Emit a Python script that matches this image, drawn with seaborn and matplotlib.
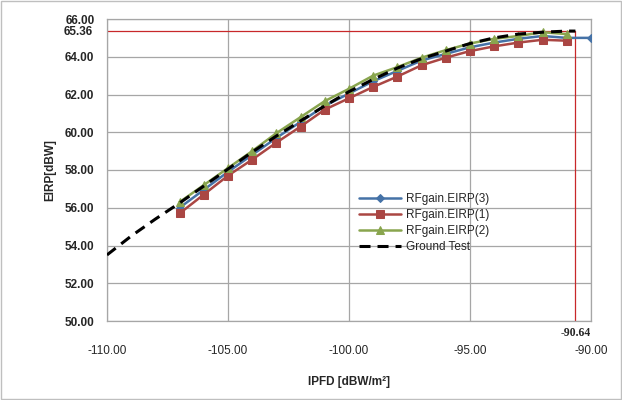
import numpy as np
import pandas as pd
import matplotlib
matplotlib.use("Agg")
import matplotlib.pyplot as plt
import seaborn as sns

# IPFD [dBW/m2] 側のデータ
ipfd_meas = [-107, -106, -105, -104, -103, -102, -101, -100, -99, -98,
             -97, -96, -95, -94, -93, -92, -91]
eirp_3 = [56.0, 56.95, 57.9, 58.8, 59.7, 60.55, 61.4, 62.05, 62.7, 63.25,
          63.8, 64.15, 64.5, 64.75, 64.95, 65.1, 65.0]
eirp_1 = [55.7, 56.7, 57.7, 58.55, 59.45, 60.3, 61.2, 61.8, 62.4, 62.95,
          63.55, 63.95, 64.3, 64.55, 64.75, 64.9, 64.85]
eirp_2 = [56.3, 57.2, 58.1, 59.0, 59.95, 60.8, 61.65, 62.3, 63.0, 63.45,
          63.95, 64.35, 64.7, 64.95, 65.1, 65.3, 65.2]
ipfd_blue_last = -90.0
eirp_blue_last = 65.0

ipfd_ground = [-110, -109, -108, -107, -106, -105, -104, -103, -102, -101,
               -100, -99, -98, -97, -96, -95, -94, -93, -92, -91, -90.64]
eirp_ground = [53.5, 54.5, 55.4, 56.25, 57.15, 58.05, 58.95, 59.8, 60.6, 61.4,
               62.15, 62.8, 63.4, 63.9, 64.3, 64.7, 65.0, 65.2, 65.3, 65.36, 65.36]

sat_ipfd = -90.64
sat_eirp = 65.36

series_names = ["RFgain.EIRP(3)", "RFgain.EIRP(1)", "RFgain.EIRP(2)"]
colors = ["#4572A7", "#AA4643", "#89A54E"]
markers = ["D", "s", "^"]

sns.set_style("white")
plt.rcParams["font.family"] = ["Liberation Sans", "DejaVu Sans"]

fig = plt.figure(figsize=(6.22, 4.0), dpi=100)
ax = fig.add_axes([0.172, 0.1975, 0.778, 0.755])

df3 = pd.DataFrame({"x": ipfd_meas + [ipfd_blue_last], "y": eirp_3 + [eirp_blue_last]})
df1 = pd.DataFrame({"x": ipfd_meas, "y": eirp_1})
df2 = pd.DataFrame({"x": ipfd_meas, "y": eirp_2})
dfg = pd.DataFrame({"x": ipfd_ground, "y": eirp_ground})

# 補助線 (飽和点)
ax.plot([-110, sat_ipfd], [sat_eirp, sat_eirp], color="#C8282A", lw=0.9, zorder=2)
ax.plot([sat_ipfd, sat_ipfd], [50, sat_eirp], color="#C8282A", lw=0.9, zorder=2)

sizes = [4, 6, 6]
for d, name, c, m, s in zip([df3, df1, df2], series_names, colors, markers, sizes):
    sns.lineplot(data=d, x="x", y="y", ax=ax, color=c, marker=m, markersize=s,
                 markeredgecolor=c, lw=1.8, label=name, sort=False, zorder=3)
sns.lineplot(data=dfg, x="x", y="y", ax=ax, color="black", lw=2.2,
             label="Ground Test", sort=False, zorder=4)
ax.lines[-1].set_dashes((3.6, 2.3))

ax.set_xlim(-110, -90)
ax.set_ylim(50, 66)
ax.set_xticks(np.arange(-110, -89, 5))
ax.set_yticks(np.arange(50, 67, 2))
ax.set_xticklabels([f"{v:.2f}" for v in np.arange(-110, -89, 5)], fontsize=8.5)
ax.set_yticklabels([f"{v:.2f}" for v in np.arange(50, 67, 2)], fontsize=8.5,
                   fontweight="bold")
ax.grid(True, color="#A6A6A6", lw=0.9)
for sp in ax.spines.values():
    sp.set_color("#A6A6A6")
    sp.set_linewidth(0.9)
ax.tick_params(axis="both", direction="out", length=4, color="#A6A6A6")
ax.tick_params(axis="x", pad=13)
ax.tick_params(axis="y", pad=5)

ax.set_xlabel("IPFD [dBW/m²]", fontsize=8.5, fontweight="bold", labelpad=14)
ax.set_ylabel("EIRP[dBW]", fontsize=8.5, fontweight="bold", labelpad=6)

ax.text(-110.6, sat_eirp - 0.05, f"{sat_eirp:.2f}", ha="right", va="center",
        fontsize=8.5, fontweight="bold")
ax.text(sat_ipfd, 49.68, f"{sat_ipfd:.2f}", ha="center", va="top",
        fontsize=8.5, fontweight="bold", family=["Liberation Serif"])

ax.legend(loc="upper left", bbox_to_anchor=(0.51, 0.44), frameon=False,
          fontsize=8.5, handlelength=3.6, labelspacing=0.35, borderaxespad=0,
          handletextpad=0.4)

fig.patches.append(plt.Rectangle((0.002, 0.003), 0.996, 0.994,
                                 transform=fig.transFigure, fill=False,
                                 edgecolor="#BFBFBF", lw=1))

fig.savefig("out.png", dpi=100)
